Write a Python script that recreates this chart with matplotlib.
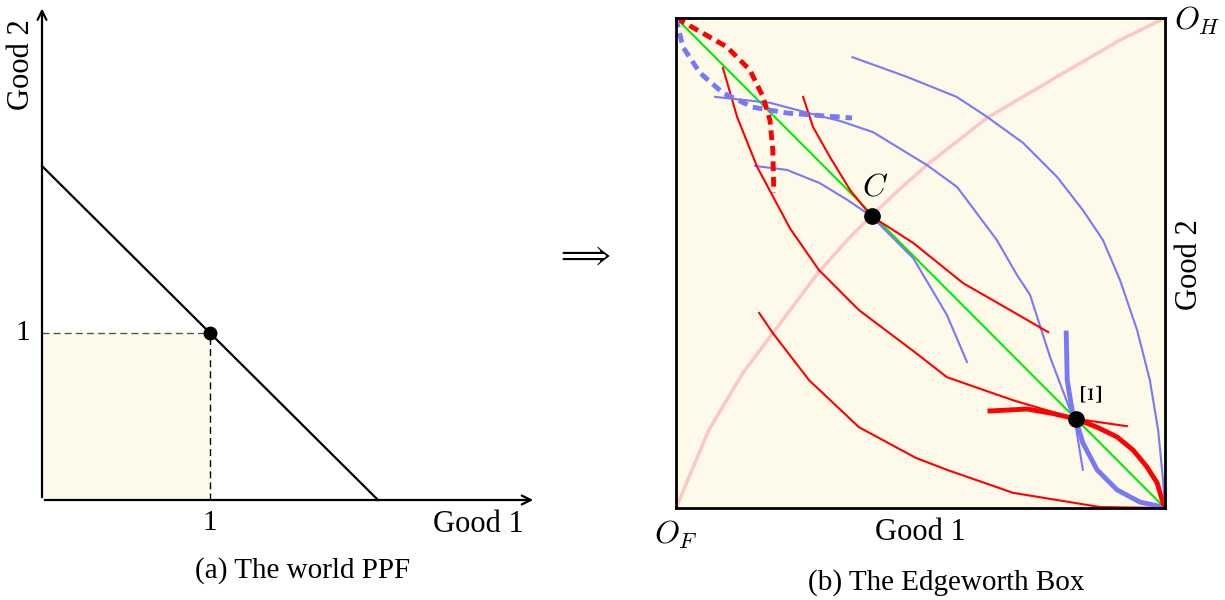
import matplotlib.pyplot as plt

plt.rcParams['font.family'] = ['Liberation Serif', 'DejaVu Serif']
plt.rcParams['mathtext.fontset'] = 'cm'

# left panel: world PPF
ppf_x = [0, 2]
ppf_y = [2, 0]
pt_x, pt_y = 1, 1

# right panel: Edgeworth box curves (box units 0..1)
pink_x = [0, 0.067, 0.137, 0.198, 0.292, 0.356, 0.401, 0.458, 0.513, 0.636, 0.779, 0.908, 1.0]
pink_y = [0, 0.159, 0.276, 0.357, 0.482, 0.553, 0.598, 0.651, 0.700, 0.796, 0.880, 0.955, 1.0]

diag_x = [0, 1]
diag_y = [1, 0]

blue_outer_x = [0.361, 0.472, 0.574, 0.635, 0.710, 0.779, 0.832, 0.873, 0.908, 0.943, 0.969, 0.986, 0.996, 1.0]
blue_outer_y = [0.920, 0.880, 0.839, 0.799, 0.745, 0.676, 0.608, 0.547, 0.465, 0.363, 0.261, 0.159, 0.057, 0.0]

blue_xi_x = [0.080, 0.192, 0.294, 0.335, 0.403, 0.513, 0.575, 0.656, 0.697, 0.724, 0.765, 0.806, 0.817, 0.832]
blue_xi_y = [0.839, 0.827, 0.800, 0.790, 0.767, 0.700, 0.655, 0.547, 0.476, 0.435, 0.308, 0.200, 0.170, 0.078]

blue_c_x = [0.162, 0.227, 0.294, 0.350, 0.399, 0.485, 0.554, 0.595]
blue_c_y = [0.698, 0.690, 0.663, 0.629, 0.596, 0.510, 0.394, 0.298]

red_c_x = [0.260, 0.280, 0.315, 0.356, 0.399, 0.485, 0.587, 0.683, 0.761]
red_c_y = [0.839, 0.778, 0.716, 0.649, 0.596, 0.541, 0.459, 0.404, 0.359]

red_xi_x = [0.096, 0.125, 0.166, 0.233, 0.292, 0.374, 0.491, 0.554, 0.689, 0.817, 0.922]
red_xi_y = [0.898, 0.798, 0.696, 0.571, 0.486, 0.404, 0.316, 0.267, 0.220, 0.182, 0.167]

red_low_x = [0.170, 0.198, 0.272, 0.374, 0.491, 0.554, 0.689, 0.867, 1.0]
red_low_y = [0.398, 0.357, 0.261, 0.165, 0.102, 0.078, 0.031, 0.002, 0.0]

red_thick_x = [0.642, 0.718, 0.770, 0.817, 0.861, 0.902, 0.935, 0.963, 0.984, 0.996, 1.0]
red_thick_y = [0.198, 0.202, 0.193, 0.182, 0.165, 0.145, 0.118, 0.084, 0.051, 0.010, 0.0]

blue_thick_x = [0.798, 0.800, 0.810, 0.817, 0.832, 0.861, 0.902, 0.949, 0.996, 1.0]
blue_thick_y = [0.357, 0.261, 0.200, 0.182, 0.133, 0.078, 0.037, 0.012, 0.002, 0.0]

red_dash_x = [0.0, 0.055, 0.104, 0.151, 0.178, 0.192, 0.198, 0.200]
red_dash_y = [1.0, 0.969, 0.941, 0.894, 0.839, 0.792, 0.731, 0.643]

blue_dash_x = [0.0, 0.014, 0.049, 0.096, 0.157, 0.227, 0.360]
blue_dash_y = [1.0, 0.941, 0.888, 0.847, 0.818, 0.806, 0.796]

C = (0.400, 0.596)
XI = (0.817, 0.182)

cream = '#FEFAE9'
blue = '#7878F8'
red = '#FF0000'

fig = plt.figure(figsize=(12.25, 6), dpi=100)

# ---- left panel
ax1 = fig.add_axes([0, 0, 560 / 1225, 1])
ax1.set_xlim(-42 / 168, 518 / 168)
ax1.set_ylim(-100 / 167, 500 / 167)
ax1.axis('off')
ax1.fill_between([0, pt_x], 0, pt_y, color=cream, lw=0)
ax1.annotate('', xy=(2.94, 0), xytext=(0, 0),
             arrowprops=dict(arrowstyle='->', lw=1.6, color='black', mutation_scale=16))
ax1.annotate('', xy=(0, 2.96), xytext=(0, 0),
             arrowprops=dict(arrowstyle='->', lw=1.6, color='black', mutation_scale=16))
ax1.plot(ppf_x, ppf_y, color='black', lw=1.6)
ax1.plot([0, pt_x], [pt_y, pt_y], color='#555555', lw=1, dashes=(5, 3))
ax1.plot([pt_x, pt_x], [0, pt_y], color='black', lw=1, dashes=(5, 3))
ax1.plot(pt_x, pt_y, 'o', color='black', ms=9)
ax1.text(pt_x, -0.06, '1', ha='center', va='top', fontsize=21)
ax1.text(-0.07, pt_y, '1', ha='right', va='center', fontsize=21)
ax1.text(2.6, -0.06, 'Good 1', ha='center', va='top', fontsize=22)
ax1.text(-0.12, 2.61, 'Good 2', ha='center', va='center', rotation=90, fontsize=22)
ax1.text(1.553, -0.42, '(a) The world PPF', ha='center', va='center', fontsize=21)

fig.text(583 / 1225, 1 - 256 / 600, r'$\Longrightarrow$', ha='center', va='center', fontsize=23)

# ---- right panel
ax2 = fig.add_axes([676 / 1225, 92 / 600, 489 / 1225, 490 / 600])
ax2.set_xlim(0, 1)
ax2.set_ylim(0, 1)
ax2.set_facecolor(cream)
ax2.set_xticks([])
ax2.set_yticks([])
for s in ax2.spines.values():
    s.set_linewidth(2)

ax2.plot(pink_x, pink_y, color='#FFC6C6', lw=2.5, solid_capstyle='round')
ax2.plot(diag_x, diag_y, color='#00EE00', lw=1.5)
ax2.plot(blue_outer_x, blue_outer_y, color=blue, lw=1.5)
ax2.plot(blue_xi_x, blue_xi_y, color=blue, lw=1.5)
ax2.plot(blue_c_x, blue_c_y, color=blue, lw=1.5)
ax2.plot(red_c_x, red_c_y, color=red, lw=1.5)
ax2.plot(red_xi_x, red_xi_y, color=red, lw=1.5)
ax2.plot(red_low_x, red_low_y, color=red, lw=1.5)
ax2.plot(blue_thick_x, blue_thick_y, color=blue, lw=3.5)
ax2.plot(red_thick_x, red_thick_y, color=red, lw=3.5)
ax2.plot(red_dash_x, red_dash_y, color=red, lw=3.5, dashes=(2, 1.2))
ax2.plot(blue_dash_x, blue_dash_y, color=blue, lw=3.5, dashes=(2, 1.2))

ax2.plot(*C, 'o', color='black', ms=11, zorder=5)
ax2.plot(*XI, 'o', color='black', ms=11, zorder=5)
ax2.text(C[0] + 0.008, C[1] + 0.028, '$C$', ha='center', va='bottom', fontsize=23)
ax2.text(XI[0] + 0.04, XI[1] + 0.05, r'$\Xi$', ha='center', va='center', rotation=90, fontsize=21)

ax2.text(1.065, 0.994, '$O_H$', ha='center', va='center', fontsize=23, clip_on=False)
ax2.text(0.0, -0.055, '$O_F$', ha='center', va='center', fontsize=23, clip_on=False)
ax2.text(0.499, -0.05, 'Good 1', ha='center', va='center', fontsize=22)
ax2.text(1.051, 0.496, 'Good 2', ha='center', va='center', rotation=90, fontsize=22)
ax2.text(0.552, -0.153, '(b) The Edgeworth Box', ha='center', va='center', fontsize=21)

plt.savefig('out.png', dpi=100)
